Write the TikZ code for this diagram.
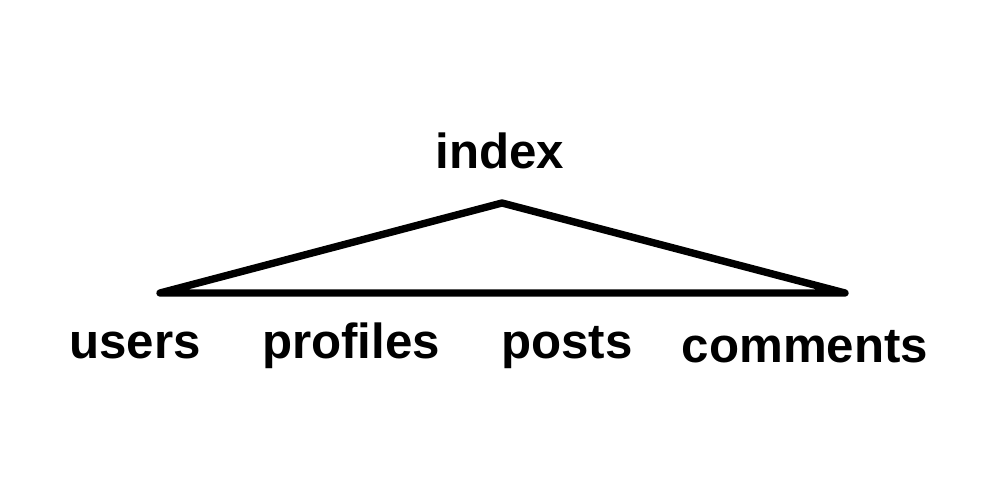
\documentclass[tikz,border=0pt]{standalone}
\usepackage{fontspec}
\setmainfont{Liberation Sans}
\begin{document}
\begin{tikzpicture}[x=0.01cm,y=-0.01cm,
  lbl/.style={anchor=base,inner sep=0pt,font=\fontsize{14}{16}\selectfont\bfseries},
  edge/.style={line width=2.1pt,line join=round,line cap=round}]
\useasboundingbox (0,0) rectangle (1000,500);
\coordinate (apex) at (502,203);
\coordinate (left) at (160,293);
\coordinate (right) at (845,293);
\draw[edge] (left) -- (apex) -- (right) -- cycle;
\node[lbl] (index) at (500,168) {index};
\node[lbl] (users) at (135,358) {users};
\node[lbl] (profiles) at (351,358) {profiles};
\node[lbl] (posts) at (567,358) {posts};
\node[lbl] (comments) at (805,362) {comments};
\end{tikzpicture}
\end{document}
